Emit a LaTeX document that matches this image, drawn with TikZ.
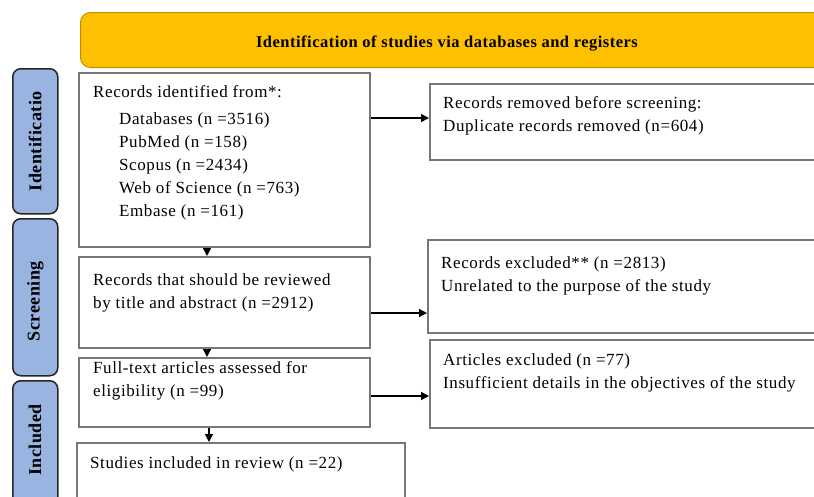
\documentclass[tikz,border=0pt]{standalone}
\usepackage{fontspec}
\setmainfont{Liberation Serif}
\newfontfamily\boxfont{Liberation Serif}[LetterSpace=3.5]
\newfontfamily\tabfont{Liberation Serif}[LetterSpace=3]
\newfontfamily\headfont{Liberation Serif}[LetterSpace=3]
\usetikzlibrary{arrows.meta}
\definecolor{hdrfill}{HTML}{FFC000}
\definecolor{hdrdraw}{HTML}{C08F00}
\definecolor{tabfill}{HTML}{9AB4E2}
\definecolor{tabdraw}{HTML}{262626}
\definecolor{boxdraw}{HTML}{777777}
\tikzset{
  box/.style={draw=boxdraw, line width=1.9pt, fill=white, inner sep=0pt, anchor=north west},
  tab/.style={draw=tabdraw, line width=1.5pt, fill=tabfill, rounded corners=8pt, inner sep=0pt, anchor=north west, minimum width=45pt},
  tabtext/.style={rotate=90, font=\tabfont\bfseries\fontsize{18}{20}\selectfont, inner sep=0pt},
  txt/.style={anchor=north west, inner sep=0pt, align=left, font=\boxfont\fontsize{17}{23}\selectfont},
  arr/.style={-{Triangle[length=8pt,width=8pt]}, line width=1.4pt, black},
}
\begin{document}
\begin{tikzpicture}[x=1pt,y=-1pt]
\useasboundingbox (0,0) rectangle (814,496);
% header
\node[draw=hdrdraw, line width=1pt, fill=hdrfill, rounded corners=10pt, anchor=north west, minimum width=760pt, minimum height=55pt, inner sep=0pt] (hdr) at (80,12) {};
\node[anchor=base, inner sep=0pt, font=\headfont\bfseries\fontsize{16.5}{18}\selectfont] (hdrtxt) at (447,47) {Identification of studies via databases and registers};
% tabs
\node[tab, minimum height=145pt] (t1) at (12,68) {};
\node[tab, minimum height=157pt] (t2) at (12,218) {};
\node[tab, minimum height=125pt] (t3) at (12,380) {};
\node[tabtext] (t1txt) at (t1.center) {Identificatio};
\node[tabtext] (t2txt) at ([yshift=-4pt]t2.center) {Screening};
\node[tabtext] (t3txt) at (35,440) {Included};
% left boxes
\node[box, minimum width=291pt, minimum height=174pt] (b1) at (78,72) {};
\node[box, minimum width=291pt, minimum height=91pt] (b2) at (78,256) {};
\node[box, minimum width=291pt, minimum height=69pt] (b3) at (78,357) {};
\node[box, minimum width=328pt, minimum height=70pt] (b4) at (76,442) {};
% right boxes
\node[box, minimum width=400pt, minimum height=76pt] (r1) at (429,83) {};
\node[box, minimum width=400pt, minimum height=93pt] (r2) at (427,239) {};
\node[box, minimum width=400pt, minimum height=88pt] (r3) at (429,339) {};
% texts
\node[txt] (b1t) at (93,85) {Records identified from*:\\[4pt]
\hspace*{26pt}Databases (n =3516)\\
\hspace*{26pt}PubMed (n =158)\\
\hspace*{26pt}Scopus (n =2434)\\
\hspace*{26pt}Web of Science (n =763)\\
\hspace*{26pt}Embase (n =161)};
\node[txt] (b2t) at (93,273) {Records that should be reviewed\\ by title and abstract (n =2912)};
\node[txt] (b3t) at (93,361) {Full-text articles assessed for\\ eligibility (n =99)};
\node[txt] (b4t) at (90,456) {Studies included in review (n =22)};
\node[txt] (r1t) at (443,96) {Records removed before screening:\\ Duplicate records removed (n=604)};
\node[txt] (r2t) at (441,256) {Records excluded** (n =2813)\\ Unrelated to the purpose of the study};
\node[txt] (r3t) at (443,353) {Articles excluded (n =77)\\ Insufficient details in the objectives of the study};
% arrows
\draw[arr] (b1.east |- 0,118) -- (r1.west |- 0,118);
\draw[arr] (b2.east |- 0,313) -- (r2.west |- 0,313);
\draw[arr] (b3.east |- 0,396) -- (r3.west |- 0,396);
\draw[arr] (b1.south -| 207,0) -- (b2.north -| 207,0);
\draw[arr] (b2.south -| 207,0) -- (b3.north -| 207,0);
\draw[arr] (b3.south -| 209,0) -- (b4.north -| 209,0);
\end{tikzpicture}
\end{document}
